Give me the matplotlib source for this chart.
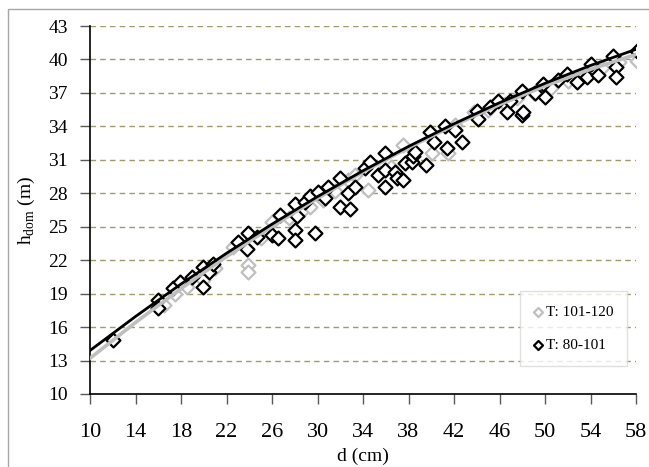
import matplotlib
matplotlib.use("Agg")
import matplotlib.pyplot as plt

plt.rcParams['font.family'] = ['Liberation Serif', 'DejaVu Serif']
plt.rcParams['mathtext.fontset'] = 'custom'
plt.rcParams['mathtext.rm'] = 'Liberation Serif'

# T: 80-101
d_80 = [12.0, 16.0, 16.0, 17.3, 17.9, 19.0, 19.9, 19.9, 20.5, 20.8,
        23.0, 23.8, 23.9, 24.7, 26.0, 26.5, 26.7, 28.0, 28.2, 28.0,
        28.0, 28.9, 29.3, 29.8, 30.0, 30.7, 30.9, 32.0, 32.0, 32.7,
        32.9, 33.3, 34.2, 34.6, 35.3, 35.9, 35.9, 35.9, 36.8, 37.0,
        37.5, 37.7, 38.3, 38.4, 38.6, 39.5, 39.9, 40.2, 41.2, 41.4,
        42.1, 42.7, 44.0, 44.1, 45.2, 45.9, 46.7, 46.9, 48.0, 48.0,
        48.1, 49.1, 49.8, 50.0, 51.1, 51.9, 52.8, 53.7, 54.0, 54.7,
        56.0, 56.2, 56.2, 58.1]
h_80 = [14.8, 18.4, 17.7, 19.5, 20.0, 20.5, 19.6, 21.4, 20.9, 21.7,
        23.6, 23.0, 24.4, 24.1, 24.3, 24.0, 26.05, 27.0, 26.0, 24.7,
        23.8, 27.2, 27.8, 24.4, 28.1, 27.6, 28.6, 29.4, 26.8, 28.0,
        26.6, 28.6, 30.3, 30.8, 29.6, 31.6, 28.6, 30.1, 29.9, 29.4,
        29.2, 30.7, 30.8, 31.3, 31.7, 30.5, 33.5, 32.6, 34.0, 32.1,
        33.7, 32.6, 35.4, 34.7, 35.7, 36.3, 35.3, 36.3, 37.2, 35.0,
        35.3, 37.0, 37.8, 36.6, 38.2, 38.7, 38.0, 38.4, 39.6, 38.6,
        40.3, 39.3, 38.4, 40.8]

# T: 101-120
d_101 = [16.5, 17.5, 18.5, 19.9, 21.0, 22.6, 23.9, 23.9, 25.0, 26.0,
         27.5, 28.7, 29.3, 30.5, 31.5, 32.7, 33.3, 34.4, 35.5, 36.5,
         37.5, 38.5, 40.1, 41.5, 42.1, 43.8, 45.0, 46.5, 47.5, 49.0,
         50.5, 52.0, 53.5, 55.0, 56.5, 58.1]
h_101 = [18.0, 19.0, 19.6, 20.2, 21.3, 23.2, 21.6, 20.9, 24.0, 25.4,
         25.8, 26.5, 26.8, 27.4, 28.2, 29.2, 29.6, 28.3, 29.8, 30.4,
         32.3, 31.8, 31.6, 31.6, 34.1, 35.3, 35.5, 36.0, 36.5, 37.0,
         37.4, 38.1, 38.6, 39.2, 39.8, 39.9]

# height curves (model values at each diameter step)
d_curve = [10, 14, 18, 22, 26, 30, 34, 38, 42, 46, 50, 54, 58]
h_curve_80 = [13.90, 16.95, 19.86, 22.62, 25.23, 27.70, 30.02,
              32.20, 34.23, 36.12, 37.86, 39.46, 40.91]
h_curve_101 = [13.20, 16.41, 19.45, 22.32, 25.02, 27.55, 29.91,
               32.09, 34.10, 35.95, 37.62, 39.12, 40.45]

x_ticks = list(range(10, 59, 4))
y_ticks = list(range(10, 44, 3))

grey = '#BFBFBF'

fig = plt.figure(figsize=(6.49, 4.67), dpi=100)
ax = fig.add_axes([90 / 649, 1 - 394 / 467, 546 / 649, 368 / 467])

# thin frame round the whole chart area
fig.patches.append(plt.Rectangle((8 / 649, -0.05), 1.1, 1 - 9 / 467 + 0.05,
                                 transform=fig.transFigure, fill=False,
                                 edgecolor='#A6A6A6', linewidth=1.0))

ax.scatter(d_101, h_101, marker='D', s=50, facecolors='white',
           edgecolors=grey, linewidths=1.6, zorder=3, label='T: 101-120')
ax.scatter(d_80, h_80, marker='D', s=50, facecolors='white',
           edgecolors='black', linewidths=1.6, zorder=4, label='T: 80-101')

ax.plot(d_curve, h_curve_101, color=grey, lw=2.6, zorder=5,
        solid_joinstyle='round')
ax.plot(d_curve, h_curve_80, color='black', lw=2.0, zorder=6,
        solid_joinstyle='round')

ax.set_xlim(10, 58)
ax.set_ylim(10, 43)
ax.set_xticks(x_ticks)
ax.set_yticks(y_ticks)
ax.tick_params(axis='x', labelsize=16, length=7, width=1, color='#595959',
               pad=14, direction='out')
ax.tick_params(axis='y', labelsize=14, length=7, width=1, color='#595959',
               pad=9, direction='out')

for y in y_ticks[1:]:
    ax.axhline(y, color='#A09A6A', lw=1.0, ls=(0, (4, 3)), zorder=1)

for s in ['top', 'right']:
    ax.spines[s].set_visible(False)
for s in ['left', 'bottom']:
    ax.spines[s].set_color('black')
    ax.spines[s].set_linewidth(1.2)

ax.set_xlabel('d (cm)', fontsize=14, labelpad=4)
ax.set_ylabel(r'h$_{\mathrm{dom}}$ (m)', fontsize=14, labelpad=8)

leg = ax.legend(loc='lower right', bbox_to_anchor=(0.9835, 0.076),
                borderaxespad=0, fontsize=11, frameon=True, fancybox=False,
                edgecolor='#D9D9D9', handlelength=0.6, handletextpad=0.2,
                labelspacing=1.3, borderpad=0.9, scatterpoints=1,
                markerscale=0.65)
leg.get_frame().set_linewidth(1.0)

fig.savefig('out.png', dpi=100)
